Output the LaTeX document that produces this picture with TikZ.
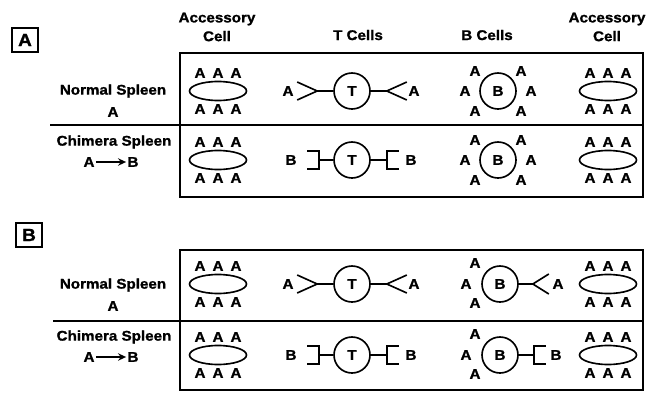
\documentclass[tikz,border=0pt]{standalone}
\usepackage{fontspec}
\setmainfont{Liberation Sans}[FakeStretch=1.08,BoldFeatures={FakeBold=1.2}]
\usetikzlibrary{arrows.meta,shapes.geometric}
\tikzset{
  sppanel/.style={draw,line width=1.4pt,minimum width=7.8mm,minimum height=7.2mm,
                  inner sep=0pt,font=\fontsize{15}{15}\selectfont\bfseries},
  spframe/.style={line width=1.4pt},
  sphead/.style={align=center,inner sep=0pt,font=\fontsize{12}{16}\selectfont\bfseries},
  sprow/.style={inner sep=1pt,font=\fontsize{12}{14}\selectfont\bfseries},
  spepi/.style={inner sep=0pt,font=\fontsize{12}{14}\selectfont\bfseries},
  spacc/.style={ellipse,draw,line width=1.4pt,minimum width=17.1mm,
                minimum height=5.7mm,inner sep=0pt},
  spcell/.style={circle,draw,line width=1.4pt,minimum size=10.8mm,inner sep=0pt,
                 font=\fontsize{12}{14}\selectfont\bfseries},
  sprec/.style={line width=1.4pt},
  sparrow/.style={-{Stealth[length=2.4mm,width=2.2mm]},line width=1.4pt}
}
\newcommand{\spAAA}{A\hspace{6pt}A\hspace{6pt}A}

\begin{document}
\begin{tikzpicture}[x=0.03cm,y=-0.03cm]
  \useasboundingbox (0,0) rectangle (646,392);

  \node[sppanel] (panelA) at (25,40) {A};
  \node[sppanel] (panelB) at (29,235) {B};

  \node[sphead] (accleft) at (217,27) {Accessory\\Cell};
  \node[sphead] (thead) at (358,35) {T Cells};
  \node[sphead] (bhead) at (487,35) {B Cells};
  \node[sphead] (accright) at (607,27) {Accessory\\Cell};

  \draw[spframe] (180,53) rectangle (643,197);
  \draw[spframe] (50,125) -- (643,125);
  \draw[spframe] (180,250) rectangle (643,390);
  \draw[spframe] (53,321) -- (643,321);

  \foreach \p/\ya/\yb in {A/91/142,B/285/337}{
    \node[sprow] (normal\p) at (113,\ya) {Normal Spleen};
    \node[sprow] (normsrc\p) at (113,\ya+21) {A};
    \node[sprow] (chimera\p) at (114,\yb) {Chimera Spleen};
    \node[sprow] (chimfrom\p) at (89,\yb+20) {A};
    \node[sprow] (chimto\p) at (133,\yb+20) {B};
    \draw[sparrow] (chimfrom\p) -- (chimto\p);
  }

  \foreach \r/\y in {1/91,2/160,3/284,4/355}{
    \node[spacc] (accl\r) at (218,\y) {};
    \node[spepi] (acclup\r) at (218,\y-18) {\spAAA};
    \node[spepi] (accldn\r) at (218,\y+18) {\spAAA};
    \node[spacc] (accr\r) at (608,\y) {};
    \node[spepi] (accrup\r) at (608,\y-18) {\spAAA};
    \node[spepi] (accrdn\r) at (608,\y+18) {\spAAA};
    \node[spcell] (tc\r) at (352,\y) {T};
  }

  \foreach \r/\y in {1/91,3/284}{
    \draw[sprec] (tc\r.west) -- ++(-16,0) coordinate (tlf\r)
      (tlf\r) -- ++(-20,-9) (tlf\r) -- ++(-20,9);
    \draw[sprec] (tc\r.east) -- ++(16,0) coordinate (trf\r)
      (trf\r) -- ++(20,-9) (trf\r) -- ++(20,9);
    \node[spepi] (tla\r) at (288,\y) {A};
    \node[spepi] (tra\r) at (414,\y) {A};
  }
  \foreach \r/\y in {2/160,4/355}{
    \draw[sprec] (tc\r.west) -- ++(-14,0) coordinate (tlb\r);
    \draw[sprec] (tlb\r) ++(-12,-9) -- ++(12,0) -- ++(0,18) -- ++(-12,0);
    \draw[sprec] (tc\r.east) -- ++(16,0) coordinate (trb\r);
    \draw[sprec] (trb\r) ++(12,-9) -- ++(-12,0) -- ++(0,18) -- ++(12,0);
    \node[spepi] (tlb\r) at (291,\y) {B};
    \node[spepi] (trb\r) at (411,\y) {B};
  }

  \foreach \r/\y in {1/91,2/160}{
    \node[spcell] (bc\r) at (498,\y) {B};
    \foreach \dx/\dy [count=\k] in {-23/-20,-33/0,-23/20,23/-20,33/0,23/20}
      \node[spepi] (bca\r\k) at (498+\dx,\y+\dy) {A};
  }
  \foreach \r/\y in {3/284,4/355}{
    \node[spcell] (bc\r) at (500,\y) {B};
    \foreach \dx/\dy [count=\k] in {-25/-21,-34/0,-25/19}
      \node[spepi] (bca\r\k) at (500+\dx,\y+\dy) {A};
  }
  \draw[sprec] (bc3.east) -- ++(14,0) coordinate (bf3)
    (bf3) -- ++(16,-10) (bf3) -- ++(16,10);
  \node[spepi] (bfa3) at (558,284) {A};
  \draw[sprec] (bc4.east) -- ++(15,0) coordinate (bb4);
  \draw[sprec] (bb4) ++(12,-9) -- ++(-12,0) -- ++(0,18) -- ++(12,0);
  \node[spepi] (bbb4) at (556,355) {B};
\end{tikzpicture}
\end{document}
